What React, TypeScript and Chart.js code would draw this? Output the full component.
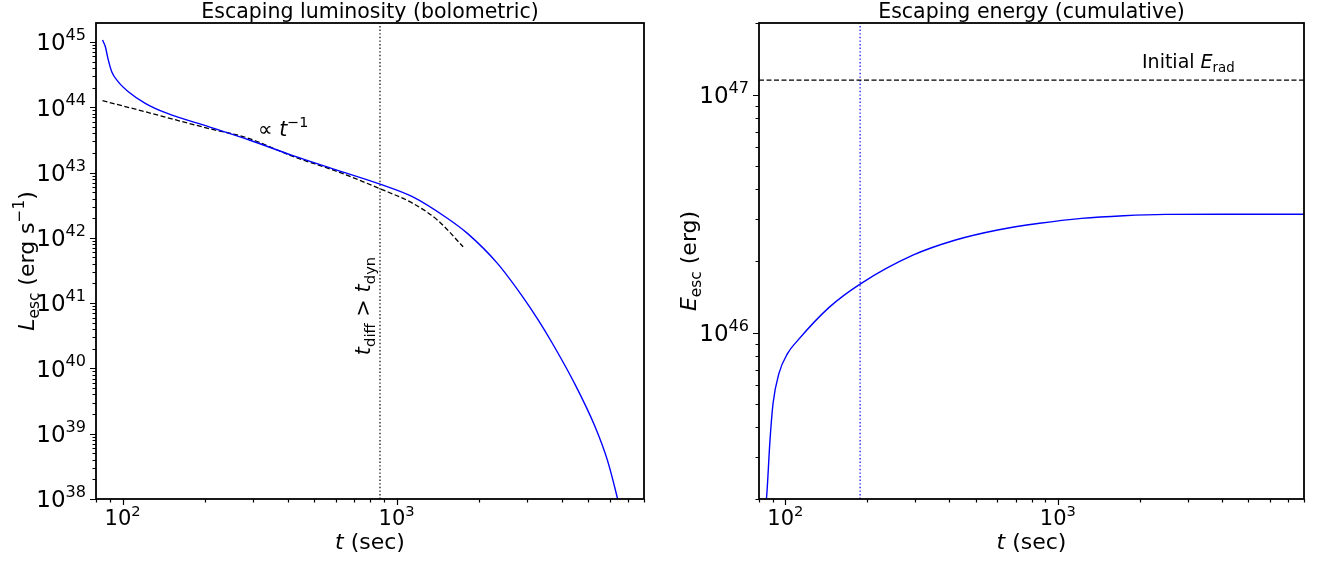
import React, { useEffect, useRef } from "react";
import { Chart, registerables } from "chart.js";

Chart.register(...registerables);

// ---------------- data ----------------
const lumTime = [84.5, 86.5, 88.7, 91.3, 96.3, 105, 121, 145, 207, 290, 421, 602, 865, 1142, 1518, 1814, 2330, 2883, 3300, 3703, 4425, 5290, 5885, 6370, 6600];
const lumValue = [1.07e45, 8.5e44, 5.3e44, 3.5e44, 2.47e44, 1.73e44, 1.15e44, 8.1e43, 5.0e43, 3.15e43, 1.8e43, 1.1e43, 6.7e42, 4.27e42, 2.05e42, 1.17e42, 4.1e41, 1.26e41, 5.4e40, 2.43e40, 6.3e39, 1.31e39, 3.9e38, 1.11e38, 5.8e37];

const fitTime = [84.5, 120, 207, 285, 421, 602, 865, 1142, 1412, 1750];
const fitValue = [1.26e44, 8.6e43, 4.7e43, 3.4e43, 1.75e43, 1.05e43, 5.7e42, 3.4e42, 1.86e42, 7.3e41];

const energyTime = [84.5, 85.3, 87.8, 90.1, 94.7, 101.9, 111.2, 145, 188, 295, 421, 601, 857, 1222, 1742, 2485, 4000, 8000];
const energyValue = [1.9e45, 2.04e45, 3.54e45, 5.05e45, 6.74e45, 8.18e45, 9.3e45, 1.28e46, 1.6e46, 2.12e46, 2.45e46, 2.7e46, 2.88e46, 3.02e46, 3.1e46, 3.14e46, 3.145e46, 3.145e46];

const tDiffEqualsDyn = 870; // black dotted line (left)
const tMarkRight = 188; // blue dotted line (right)
const initialErad = 1.15e47; // dashed horizontal (right)

const xMin = 80;
const xMax = 8000;
const lumMin = 1e38;
const lumMax = 1.95e45;
const enMin = 2.0e45;
const enMax = 2.0e47;

const xTickExps = [2, 3];
const lumTickExps = [38, 39, 40, 41, 42, 43, 44, 45];
const enTickExps = [46, 47];

// ---------------- text helpers ----------------
type Seg = { t: string; it?: boolean; s?: number; dy?: number };
const FAMILY = "'DejaVu Sans'";

function segFont(g: Seg, F: number) {
  return `${g.it ? "italic " : ""}${(F * (g.s ?? 1)).toFixed(1)}px ${FAMILY}`;
}
function richWidth(ctx: CanvasRenderingContext2D, segs: Seg[], F: number) {
  let w = 0;
  for (const g of segs) {
    ctx.font = segFont(g, F);
    w += ctx.measureText(g.t).width;
  }
  return w;
}
function drawRich(ctx: CanvasRenderingContext2D, segs: Seg[], x: number, y: number, F: number, align: "left" | "center" | "right") {
  const w = richWidth(ctx, segs, F);
  let cx = align === "center" ? x - w / 2 : align === "right" ? x - w : x;
  ctx.textAlign = "left";
  ctx.textBaseline = "alphabetic";
  for (const g of segs) {
    ctx.font = segFont(g, F);
    ctx.fillText(g.t, cx, y + (g.dy ?? 0) * F);
    cx += ctx.measureText(g.t).width;
  }
}
const pow10 = (e: number): Seg[] => [{ t: "10" }, { t: String(e), s: 0.7, dy: -0.45 }];

type Decor = {
  title: string;
  yTickExps: number[];
  yLabel: Seg[];
  yLabelX: number;
  extra?: (chart: any, ctx: CanvasRenderingContext2D) => void;
};

function decorPlugin(d: Decor) {
  return {
    id: "decor",
    afterDraw(chart: any) {
      const ctx: CanvasRenderingContext2D = chart.ctx;
      const a = chart.chartArea;
      const xs = chart.scales.x;
      const ys = chart.scales.y;
      ctx.save();
      ctx.fillStyle = "#000";
      ctx.strokeStyle = "#000";

      // ticks
      const majorLen = 6;
      const minorLen = 3.5;
      ctx.lineWidth = 1.2;
      ctx.beginPath();
      for (let dec = Math.floor(Math.log10(xs.min)); dec <= Math.ceil(Math.log10(xs.max)); dec++) {
        for (let m = 1; m <= 9; m++) {
          const v = m * Math.pow(10, dec);
          if (v < xs.min * 0.999 || v > xs.max * 1.001) continue;
          const px = Math.round(xs.getPixelForValue(v)) + 0.5;
          ctx.moveTo(px, a.bottom);
          ctx.lineTo(px, a.bottom + (m === 1 ? majorLen : minorLen));
        }
      }
      for (let dec = Math.floor(Math.log10(ys.min)); dec <= Math.ceil(Math.log10(ys.max)); dec++) {
        for (let m = 1; m <= 9; m++) {
          const v = m * Math.pow(10, dec);
          if (v < ys.min * 0.999 || v > ys.max * 1.001) continue;
          const py = Math.round(ys.getPixelForValue(v)) + 0.5;
          ctx.moveTo(a.left, py);
          ctx.lineTo(a.left - (m === 1 ? majorLen : minorLen), py);
        }
      }
      ctx.stroke();

      // frame
      ctx.lineWidth = 1.8;
      ctx.strokeRect(a.left, a.top, a.right - a.left, a.bottom - a.top);

      // tick labels
      const FY = 23;
      for (const e of d.yTickExps) {
        const py = ys.getPixelForValue(Math.pow(10, e));
        drawRich(ctx, pow10(e), a.left - majorLen - 4, py + 0.364 * FY, FY, "right");
      }
      const FX = 21;
      for (const e of xTickExps) {
        const px = xs.getPixelForValue(Math.pow(10, e));
        drawRich(ctx, pow10(e), px, a.bottom + 26, FX, "center");
      }

      // title
      const cx = (a.left + a.right) / 2;
      drawRich(ctx, [{ t: d.title }], cx, a.top - 5, 20.5, "center");

      // x label
      drawRich(ctx, [{ t: "t", it: true }, { t: " (sec)" }], cx, 549, 22, "center");

      // y label
      ctx.save();
      ctx.translate(d.yLabelX, (a.top + a.bottom) / 2);
      ctx.rotate(-Math.PI / 2);
      drawRich(ctx, d.yLabel, 0, 0.36 * 22, 22, "center");
      ctx.restore();

      if (d.extra) d.extra(chart, ctx);
      ctx.restore();
    },
  };
}

function lineDs(xs: number[], ys: number[], color: string, width: number, dash: number[] = [], smooth = true) {
  return {
    data: xs.map((x, i) => ({ x, y: ys[i] })),
    borderColor: color,
    borderWidth: width,
    borderDash: dash,
    pointRadius: 0,
    fill: false,
    cubicInterpolationMode: smooth ? "monotone" : "default",
    tension: 0,
  };
}

function baseOptions(yMin: number, yMax: number, padding: any) {
  return {
    responsive: false,
    animation: false,
    devicePixelRatio: 1,
    layout: { padding },
    plugins: { legend: { display: false }, tooltip: { enabled: false }, title: { display: false } },
    events: [],
    scales: {
      x: { type: "logarithmic", min: xMin, max: xMax, display: false },
      y: { type: "logarithmic", min: yMin, max: yMax, display: false },
    },
  };
}

export default function App() {
  const leftRef = useRef<HTMLCanvasElement | null>(null);
  const rightRef = useRef<HTMLCanvasElement | null>(null);

  useEffect(() => {
    const left = new Chart(leftRef.current as HTMLCanvasElement, {
      type: "line",
      data: {
        datasets: [
          lineDs(lumTime, lumValue, "#0000ff", 1.4),
          lineDs(fitTime, fitValue, "#000000", 1.3, [5, 2.5]),
          lineDs([tDiffEqualsDyn, tDiffEqualsDyn], [lumMin, lumMax], "#000000", 1.2, [1.4, 2.2], false),
        ],
      } as any,
      options: baseOptions(lumMin, lumMax, { left: 96, top: 23, right: 17, bottom: 63 }) as any,
      plugins: [
        decorPlugin({
          title: "Escaping luminosity (bolometric)",
          yTickExps: lumTickExps,
          yLabel: [
            { t: "L", it: true },
            { t: "esc", s: 0.7, dy: 0.22 },
            { t: " (erg s" },
            { t: "\u22121", s: 0.7, dy: -0.45 },
            { t: ")" },
          ],
          yLabelX: 26,
          extra: (chart, ctx) => {
            // proportional annotation
            drawRich(ctx, [{ t: "\u221d " }, { t: "t", it: true }, { t: "\u22121", s: 0.7, dy: -0.45 }], 258, 136, 20.5, "left");
            // rotated label next to dotted line
            const xs = chart.scales.x;
            const px = xs.getPixelForValue(tDiffEqualsDyn);
            ctx.save();
            ctx.translate(px - 10, 306);
            ctx.rotate(-Math.PI / 2);
            drawRich(
              ctx,
              [
                { t: "t", it: true },
                { t: "diff", s: 0.7, dy: 0.22 },
                { t: " > " },
                { t: "t", it: true },
                { t: "dyn", s: 0.7, dy: 0.22 },
              ],
              0,
              0,
              21,
              "center"
            );
            ctx.restore();
          },
        }) as any,
      ],
    });

    const right = new Chart(rightRef.current as HTMLCanvasElement, {
      type: "line",
      data: {
        datasets: [
          lineDs(energyTime, energyValue, "#0000ff", 1.4),
          lineDs([xMin, xMax], [initialErad, initialErad], "#000000", 1.3, [5, 2.5], false),
          lineDs([tMarkRight, tMarkRight], [enMin, enMax], "#0000ff", 1.2, [1.4, 2.2], false),
        ],
      } as any,
      options: baseOptions(enMin, enMax, { left: 98, top: 23, right: 19, bottom: 63 }) as any,
      plugins: [
        decorPlugin({
          title: "Escaping energy (cumulative)",
          yTickExps: enTickExps,
          yLabel: [{ t: "E", it: true }, { t: "esc", s: 0.7, dy: 0.22 }, { t: " (erg)" }],
          yLabelX: 27,
          extra: (_chart, ctx) => {
            drawRich(ctx, [{ t: "Initial " }, { t: "E", it: true }, { t: "rad", s: 0.7, dy: 0.22 }], 481, 68, 19, "left");
          },
        }) as any,
      ],
    });

    return () => {
      left.destroy();
      right.destroy();
    };
  }, []);

  return (
    <div style={{ position: "absolute", left: 0, top: 0, width: 1323, height: 562, background: "#fff" }}>
      <canvas ref={leftRef} width={661} height={562} style={{ position: "absolute", left: 0, top: 0, width: 661, height: 562 }} />
      <canvas ref={rightRef} width={662} height={562} style={{ position: "absolute", left: 661, top: 0, width: 662, height: 562 }} />
    </div>
  );
}
